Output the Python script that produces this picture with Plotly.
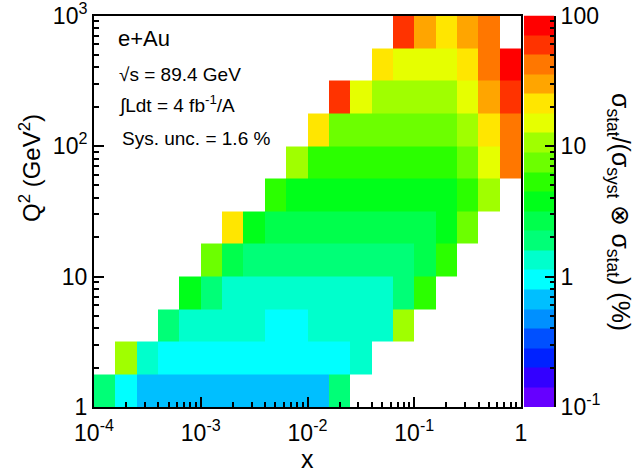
import numpy as np
import plotly.graph_objects as go

# Binning: 5 bins per decade in x (1e-4 .. 1), 4 bins per decade in Q^2 (1 .. 1e3)
x_edges = 10 ** np.linspace(-4, 0, 21)
q2_edges = 10 ** np.linspace(0, 3, 13)

# sigma_stat / (sigma_syst (+) sigma_stat) in %, one list per Q^2 bin, from low to high Q^2
q2_bin_01 = [1.9, 0.95, 0.7, 0.7, 0.7, 0.7, 0.7, 0.7, 0.7, 0.7, 0.7, 1.9,
             None, None, None, None, None, None, None, None]
q2_bin_02 = [None, 10.5, 1.3, 0.95, 0.95, 0.95, 0.95, 0.95, 0.95, 0.95, 0.95, 0.95,
             1.3, None, None, None, None, None, None, None]
q2_bin_03 = [None, None, None, 1.9, 1.3, 1.3, 1.3, 1.3, 0.95, 0.95, 1.3, 1.3,
             1.3, 1.3, 10.5, None, None, None, None, None]
q2_bin_04 = [None, None, None, None, 3.8, 1.9, 1.3, 1.3, 1.3, 1.3, 1.3, 1.3,
             1.3, 1.3, 1.9, 5.3, None, None, None, None]
q2_bin_05 = [None, None, None, None, None, 7.5, 2.6, 1.9, 1.9, 1.9, 1.9, 1.9,
             1.9, 1.9, 1.9, 2.6, 5.3, None, None, None]
q2_bin_06 = [None, None, None, None, None, None, 21, 3.8, 2.6, 2.6, 2.6, 2.6,
             2.6, 2.6, 2.6, 2.6, 3.8, 7.5, None, None]
q2_bin_07 = [None, None, None, None, None, None, None, None, 5.3, 3.8, 3.8, 3.8,
             3.8, 3.8, 3.8, 3.8, 3.8, 5.3, 10.5, None]
q2_bin_08 = [None, None, None, None, None, None, None, None, None, 10.5, 5.3, 5.3,
             5.3, 5.3, 5.3, 5.3, 5.3, 7.5, 15, 42]
q2_bin_09 = [None, None, None, None, None, None, None, None, None, None, 21, 7.5,
             7.5, 7.5, 7.5, 7.5, 7.5, 10.5, 21, 42]
q2_bin_10 = [None, None, None, None, None, None, None, None, None, None, None, 60,
             15, 10.5, 10.5, 10.5, 10.5, 15, 30, 60]
q2_bin_11 = [None, None, None, None, None, None, None, None, None, None, None, None,
             None, 21, 15, 15, 15, 21, 42, 85]
q2_bin_12 = [None, None, None, None, None, None, None, None, None, None, None, None,
             None, None, 60, 30, 21, 30, 42, None]

rows = [q2_bin_01, q2_bin_02, q2_bin_03, q2_bin_04, q2_bin_05, q2_bin_06,
        q2_bin_07, q2_bin_08, q2_bin_09, q2_bin_10, q2_bin_11, q2_bin_12]
z_log = [[None if v is None else float(np.log10(v)) for v in r] for r in rows]

# 20-step rainbow palette, 0.1% .. 100% on a log scale
palette = ["#6600FF", "#3300FF", "#0022FF", "#0050FF", "#0090FF",
           "#00BFFF", "#00FFFF", "#00FFCC", "#00FF77", "#00FF4C",
           "#00FF1A", "#2BFF00", "#6CFF00", "#A0FF00", "#E6FF00",
           "#FFE600", "#FFA500", "#FF7700", "#FF3300", "#FF0000"]
n_col = len(palette)
colorscale = []
for k, c in enumerate(palette):
    colorscale.append([k / n_col, c])
    colorscale.append([(k + 1) / n_col, c])
z_min, z_max = -1.0, 2.0

W, H = 636, 472
FONT = "Liberation Sans"


def px(xp):
    return xp / W


def py(yp):
    return 1 - yp / H


fig = go.Figure()

fig.add_trace(go.Heatmap(
    x=x_edges, y=q2_edges, z=z_log,
    colorscale=colorscale, zmin=z_min, zmax=z_max,
    showscale=False, hoverongaps=False,
    xaxis="x", yaxis="y",
))

# Palette bar drawn as its own log-scaled strip
bar_edges = 10 ** np.linspace(z_min, z_max, n_col + 1)
bar_z = [[float(z_min + (k + 0.5) * (z_max - z_min) / n_col)] for k in range(n_col)]
fig.add_trace(go.Heatmap(
    x=[0, 1], y=bar_edges, z=bar_z,
    colorscale=colorscale, zmin=z_min, zmax=z_max,
    showscale=False, xaxis="x2", yaxis="y2",
))

x_minor = [m * 10.0 ** e for e in range(-4, 0) for m in range(2, 10)]
y_minor = [m * 10.0 ** e for e in range(0, 3) for m in range(2, 10)]
z_minor = [m * 10.0 ** e for e in range(-1, 2) for m in range(2, 10)]

y_dom = [py(407), py(15.5)]
tick_font = dict(family=FONT, size=23, color="black")

fig.update_layout(
    width=W, height=H,
    margin=dict(l=0, r=0, t=0, b=0, autoexpand=False),
    paper_bgcolor="white", plot_bgcolor="white",
    font=dict(family=FONT, color="black"),
    showlegend=False,
    xaxis=dict(
        type="log", range=[-4, 0], domain=[px(94), px(521)], anchor="y",
        automargin=False, ticklabeloverflow="allow", ticklabelstandoff=4,
        tickvals=[1e-4, 1e-3, 1e-2, 1e-1, 1],
        ticktext=["10<sup>-4</sup>", "10<sup>-3</sup>", "10<sup>-2</sup>", "10<sup>-1</sup>", "1"],
        ticks="inside", ticklen=10, tickwidth=1.5, tickcolor="black",
        minor=dict(tickvals=x_minor, ticks="inside", ticklen=5, tickwidth=1.5,
                   tickcolor="black", showgrid=False),
        showline=True, linewidth=2, linecolor="black", mirror=True,
        showgrid=False, zeroline=False, tickfont=tick_font,
    ),
    yaxis=dict(
        type="log", range=[0, 3], domain=y_dom, anchor="x",
        automargin=False, ticklabeloverflow="allow",
        tickvals=[1, 10, 100, 1000],
        ticktext=["1", "10", "10<sup>2</sup>", "10<sup>3</sup>"],
        ticks="inside", ticklen=10, tickwidth=1.5, tickcolor="black",
        minor=dict(tickvals=y_minor, ticks="inside", ticklen=5, tickwidth=1.5,
                   tickcolor="black", showgrid=False),
        showline=True, linewidth=2, linecolor="black", mirror=True,
        showgrid=False, zeroline=False, tickfont=tick_font,
    ),
    xaxis2=dict(
        range=[0, 1], domain=[px(524), px(554)], anchor="y2",
        automargin=False,
        showticklabels=False, ticks="", showline=False,
        showgrid=False, zeroline=False, fixedrange=True,
    ),
    yaxis2=dict(
        type="log", range=[z_min, z_max], domain=y_dom, anchor="x2", side="right",
        automargin=False, ticklabeloverflow="allow",
        tickvals=[0.1, 1, 10, 100],
        ticktext=["10<sup>-1</sup>", "1", "10", "100"],
        ticks="inside", ticklen=9, tickwidth=1.5, tickcolor="black",
        minor=dict(tickvals=z_minor, ticks="inside", ticklen=4, tickwidth=1.5,
                   tickcolor="black", showgrid=False),
        showline=True, linewidth=2, linecolor="black",
        showgrid=False, zeroline=False, tickfont=tick_font,
    ),
)

annotations = [
    dict(text="e+Au", x=px(116), y=py(38), size=22),
    dict(text="√s = 89.4 GeV", x=px(117), y=py(74), size=19),
    dict(text="∫Ldt = 4 fb<sup>-1</sup>/A", x=px(117), y=py(105), size=19),
    dict(text="Sys. unc. = 1.6 %", x=px(120), y=py(138), size=19),
]
for a in annotations:
    fig.add_annotation(
        text=a["text"], x=a["x"], y=a["y"], xref="paper", yref="paper",
        xanchor="left", yanchor="middle", showarrow=False,
        font=dict(family=FONT, size=a["size"], color="black"),
    )

# Axis titles
fig.add_annotation(
    text="x", x=px(307), y=py(459), xref="paper", yref="paper",
    xanchor="center", yanchor="middle", showarrow=False,
    font=dict(family=FONT, size=25, color="black"),
)
fig.add_annotation(
    text="Q<sup>2</sup> (GeV<sup>2</sup>)", x=px(30), y=py(168), xref="paper", yref="paper",
    xanchor="center", yanchor="middle", showarrow=False, textangle=-90,
    font=dict(family=FONT, size=24, color="black"),
)
fig.add_annotation(
    text="σ<sub>stat</sub>/(σ<sub>syst</sub> ⊗ σ<sub>stat</sub>) (%)",
    x=px(619), y=py(212), xref="paper", yref="paper",
    xanchor="center", yanchor="middle", showarrow=False, textangle=90,
    font=dict(family=FONT, size=25, color="black"),
)

fig.write_html("out.html")
